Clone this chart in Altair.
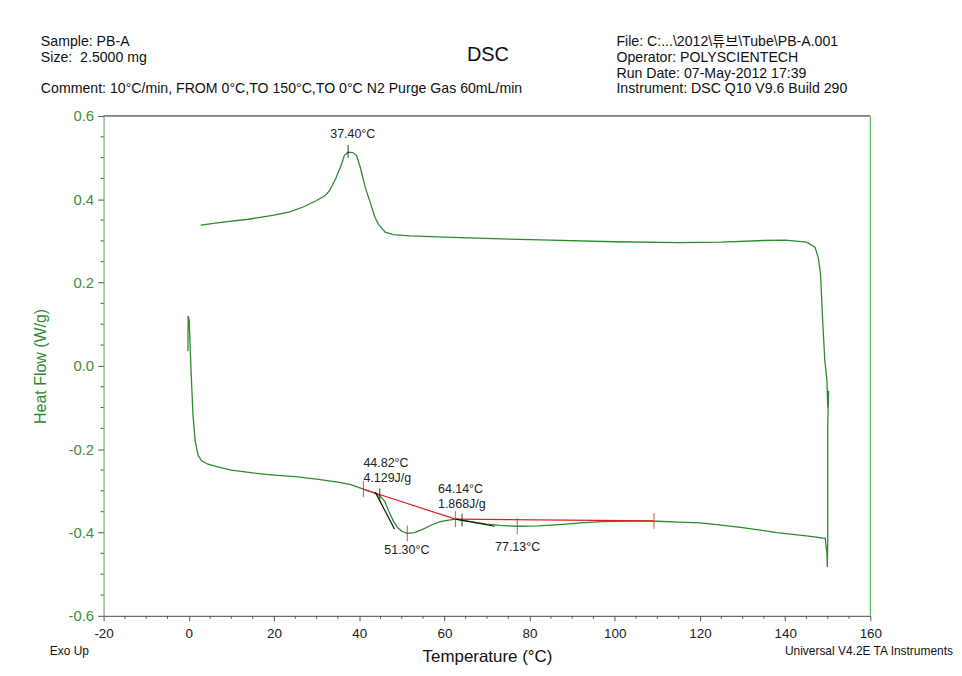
import altair as alt
import pandas as pd

# ---------------- data ----------------
heat_T = [-0.2, -0.15, 0.1, 0.3, 0.6, 1.0, 1.5, 2.2, 3.0, 4.5, 7, 10, 15, 20, 25, 30, 35, 38,
          41.0, 43, 44.82, 46, 47, 48, 49, 50, 51.3, 53, 55, 57, 59, 61, 62.6, 64.14, 67, 70,
          73, 77.13, 82, 87, 92, 97, 101, 105, 110, 115, 120, 125, 130, 138, 145, 149.4,
          149.8, 149.9, 150.0, 150.0, 150.2, 150.0]
heat_H = [0.035, 0.12, 0.11, 0.05, -0.03, -0.12, -0.18, -0.215, -0.228, -0.236, -0.243, -0.25,
          -0.257, -0.262, -0.266, -0.272, -0.279, -0.285, -0.296, -0.303, -0.311, -0.325, -0.35,
          -0.372, -0.388, -0.397, -0.402, -0.4, -0.392, -0.382, -0.374, -0.37, -0.368, -0.37,
          -0.375, -0.38, -0.383, -0.385, -0.384, -0.381, -0.377, -0.374, -0.373, -0.372, -0.373,
          -0.375, -0.377, -0.382, -0.388, -0.4, -0.408, -0.414, -0.45, -0.483, -0.42, -0.14,
          -0.06, -0.1]
cool_T = [149.8, 149.3, 148.8, 148.3, 147.75, 147.0, 145, 140, 135, 125, 115, 100, 80, 60, 52,
          48, 46.1, 44.5, 43.7, 42.5, 41.4, 40.3, 39.4, 38.5, 37.4, 36.5, 35.9, 34.5, 33, 32, 30,
          27, 23.5, 20, 14, 8, 2.8]
cool_H = [-0.033, 0.014, 0.11, 0.222, 0.261, 0.285, 0.297, 0.302, 0.301, 0.297, 0.296, 0.298,
          0.303, 0.309, 0.312, 0.315, 0.321, 0.34, 0.357, 0.395, 0.429, 0.475, 0.505, 0.512,
          0.513, 0.505, 0.485, 0.45, 0.42, 0.409, 0.397, 0.382, 0.369, 0.362, 0.352, 0.345, 0.338]

red_seg_T = [41.0, 62.6]
red_seg_T2 = [62.6, 109.2]
red_seg_H = [-0.296, -0.368]
red_seg_H2 = [-0.368, -0.372]
blk_seg_T = [43.8, 62.6]
blk_seg_T2 = [48.3, 71.8]
blk_seg_H = [-0.303, -0.368]
blk_seg_H2 = [-0.392, -0.385]

red_tick_T = [41.0, 51.3, 62.6, 77.13, 109.2]
red_tick_H = [-0.296, -0.402, -0.368, -0.385, -0.372]
blk_tick_T = [44.82, 64.14, 37.4]
blk_tick_H = [-0.31, -0.37, 0.515]

ann_text = ["37.40°C", "44.82°C", "4.129J/g", "64.14°C", "1.868J/g", "51.30°C", "77.13°C"]
ann_T = [33.2, 41.0, 41.0, 58.5, 58.5, 45.9, 71.9]
ann_H = [0.557, -0.234, -0.270, -0.296, -0.332, -0.442, -0.435]

x_major = [-20, 0, 20, 40, 60, 80, 100, 120, 140, 160]
x_minor = [v for v in range(-20, 161, 5) if v % 20 != 0]
y_major = [-0.6, -0.4, -0.2, 0.0, 0.2, 0.4, 0.6]
y_minor = [round(-0.6 + 0.05 * i, 2) for i in range(25) if i % 4 != 0]

header_left = "Sample: PB-A\nSize:\u00a0 2.5000 mg"
header_comment = "Comment: 10°C/min, FROM 0°C,TO 150°C,TO 0°C N2 Purge Gas 60mL/min"
header_right = ("File: C:...\\2012\\튜브\\Tube\\PB-A.001\nOperator: POLYSCIENTECH\n"
                "Run Date: 07-May-2012 17:39\nInstrument: DSC Q10 V9.6 Build 290")

# ---------------- styling ----------------
W, H = 770, 502
GREEN = "#2f8a2f"
AXGREEN = "#5cb85c"
DARK = "#555555"
FONT = "Liberation Sans, Noto Sans CJK KR, Arial, sans-serif"

xs = alt.Scale(domain=[-20, 160], nice=False, zero=False)
ys = alt.Scale(domain=[-0.6, 0.6], nice=False, zero=False)

n_h = len(heat_T)
curve = pd.DataFrame({"T": heat_T + cool_T, "H": heat_H + cool_H,
                      "i": list(range(n_h + len(cool_T)))})

line = alt.Chart(curve).mark_line(color=GREEN, strokeWidth=1.3).encode(
    x=alt.X("T:Q", scale=xs, axis=alt.Axis(
        values=x_major, labelFlush=False, labelOverlap=False,
        labelExpr="datum.value < 0 ? '-' + format(-datum.value, 'd') : format(datum.value, 'd')",
        labelFont=FONT, labelFontSize=13.5, labelColor="#222",
        domainColor=DARK, tickColor=DARK, tickSize=5, labelPadding=6, grid=False,
        title="Temperature (°C)", titleFont=FONT, titleFontSize=17, titleFontWeight="normal",
        titleColor="#111", titlePadding=8)),
    y=alt.Y("H:Q", scale=ys, axis=alt.Axis(
        values=y_major, labelFlush=False, labelOverlap=False,
        labelExpr="datum.value < 0 ? '-' + format(-datum.value, '.1f') : format(datum.value, '.1f')",
        labelFont=FONT, labelFontSize=15, labelColor="#3f8f3f",
        domainColor=AXGREEN, tickColor=DARK, tickSize=6, labelPadding=4, grid=False,
        title="Heat Flow (W/g)", titleFont=FONT, titleFontSize=16, titleFontWeight="normal",
        titleColor=GREEN, titlePadding=19)),
    order="i:Q",
)

ymin_df = pd.DataFrame({"v": y_minor})
y_minor_rules = alt.Chart(ymin_df).mark_rule(color=DARK, strokeWidth=1).encode(
    y=alt.Y("v:Q", scale=ys), x=alt.value(-3), x2=alt.value(0))
xmin_df = pd.DataFrame({"v": x_minor})
x_minor_rules = alt.Chart(xmin_df).mark_rule(color=DARK, strokeWidth=1).encode(
    x=alt.X("v:Q", scale=xs), y=alt.value(H), y2=alt.value(H + 3))

frame_df = pd.DataFrame({"k": [0]})
top_rule = alt.Chart(frame_df).mark_rule(color=DARK, strokeWidth=1.2).encode(
    x=alt.value(0), x2=alt.value(W), y=alt.value(0))
right_rule = alt.Chart(frame_df).mark_rule(color=AXGREEN, strokeWidth=1.2).encode(
    x=alt.value(W), y=alt.value(0), y2=alt.value(H))

red_df = pd.DataFrame({"T": red_seg_T, "T2": red_seg_T2, "H": red_seg_H, "H2": red_seg_H2})
red_lines = alt.Chart(red_df).mark_rule(color="#e02020", strokeWidth=1.2).encode(
    x=alt.X("T:Q", scale=xs), x2="T2:Q", y=alt.Y("H:Q", scale=ys), y2="H2:Q")
blk_df = pd.DataFrame({"T": blk_seg_T, "T2": blk_seg_T2, "H": blk_seg_H, "H2": blk_seg_H2})
blk_lines = alt.Chart(blk_df).mark_rule(color="#111111", strokeWidth=1.2).encode(
    x=alt.X("T:Q", scale=xs), x2="T2:Q", y=alt.Y("H:Q", scale=ys), y2="H2:Q")

rt_df = pd.DataFrame({"T": red_tick_T, "H": red_tick_H})
red_ticks = alt.Chart(rt_df).mark_tick(color="#e02020", orient="vertical", size=16,
                                       thickness=1.2).encode(
    x=alt.X("T:Q", scale=xs), y=alt.Y("H:Q", scale=ys))
bt_df = pd.DataFrame({"T": blk_tick_T, "H": blk_tick_H})
blk_ticks = alt.Chart(bt_df).mark_tick(color="#111111", orient="vertical", size=13,
                                       thickness=1.2).encode(
    x=alt.X("T:Q", scale=xs), y=alt.Y("H:Q", scale=ys))

ann_df = pd.DataFrame({"T": ann_T, "H": ann_H, "t": ann_text})
ann = alt.Chart(ann_df).mark_text(font=FONT, fontSize=12.5, color="#222", align="left",
                                  baseline="middle").encode(
    x=alt.X("T:Q", scale=xs), y=alt.Y("H:Q", scale=ys), text="t:N")

def label(txt, x, y, size, align="left", line_height=15.5, color="#111"):
    return alt.Chart(pd.DataFrame({"t": [txt]})).mark_text(
        font=FONT, fontSize=size, align=align, baseline="alphabetic", lineBreak="\n",
        lineHeight=line_height, color=color).encode(
        text="t:N", x=alt.value(x), y=alt.value(y))

texts = [
    label(header_left, -63, -70, 14.2),
    label(header_comment, -63, -23, 14.2),
    label(header_right, 515, -70, 14.2, line_height=15.7),
    label("DSC", 386, -55, 20, align="center"),
    label("Exo Up", -54, 541, 12),
    label("Universal V4.2E TA Instruments", 853, 541, 12, align="right"),
]

chart = alt.layer(line, y_minor_rules, x_minor_rules, top_rule, right_rule, red_lines,
                  blk_lines, red_ticks, blk_ticks, ann, *texts).properties(
    width=W, height=H,
    padding={"left": 96, "top": 107, "right": 84, "bottom": 55},
    autosize=alt.AutoSizeParams(type="none"),
).configure_view(stroke=None).configure(background="white")

chart.save("out.html", embed_options={"renderer": "svg", "actions": False})
